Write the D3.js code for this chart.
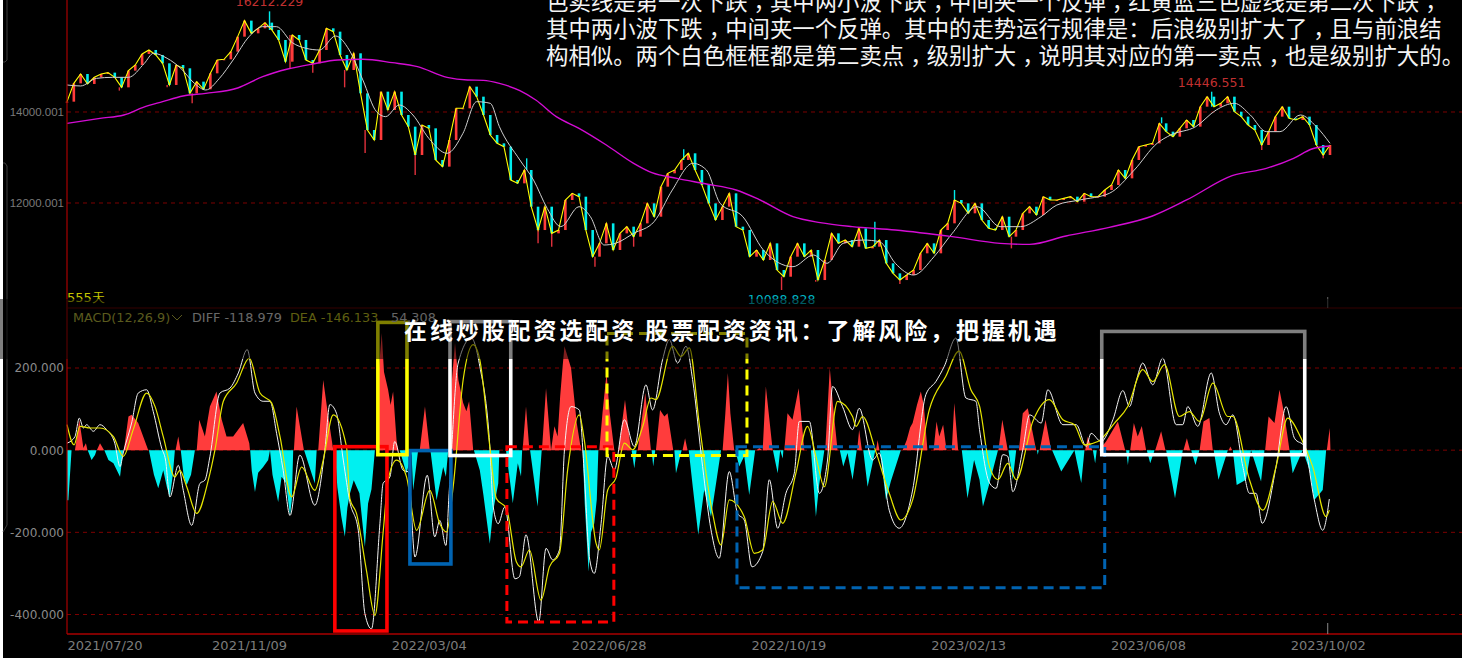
<!DOCTYPE html>
<html>
<head>
<meta charset="utf-8">
<script src="https://cdn.jsdelivr.net/npm/d3@7/dist/d3.min.js"></script>
<style>
  html, body { margin: 0; padding: 0; background: #000; overflow: hidden; }
  svg { display: block; }
  .mono { font-family: "DejaVu Sans", sans-serif; }
  .tick-price { font-family: "Liberation Sans", sans-serif; }
  .cjk { font-family: "Noto Sans CJK SC", sans-serif; }
</style>
</head>
<body>
<div id="chart"></div>
<script>
// closing index, one reading every 3 sessions
const closes = [
  14227,14630,14835,14616,14762,14835,14865,14762,14542,14909,15033,15275,15363,15253,15070,14594,
  15033,14960,14410,14667,14498,14850,15143,15158,15326,15656,16008,15729,15839,15964,15803,15583,
  15106,15693,15583,15143,15070,15363,15839,15766,15253,14923,15290,14410,13604,13385,14447,14044,
  14447,13934,13678,13055,13714,13641,12945,12799,13385,14081,14081,14557,14337,13934,13495,13311,
  13238,12505,12432,12725,11919,11406,11919,11333,11406,12066,12212,12139,11406,10820,11113,11553,
  10967,11333,11480,11260,11553,11992,11699,12359,12652,12725,12945,13092,12725,12396,11992,11626,
  11919,12212,11480,11406,10820,10967,10747,11113,10527,10380,10820,11113,10820,10967,10307,10747,
  11333,11113,11186,11040,11443,11003,11040,11186,10674,10454,10307,10417,10527,10894,11113,10894,
  11406,11553,12066,11992,11773,11992,11626,11443,11406,11699,11260,11406,11773,11919,11736,12139,
  12066,12066,12102,12139,12029,12212,12139,12139,12286,12396,12725,12542,12945,13238,13275,13311,
  13751,13568,13458,13641,13824,13678,14117,14337,14117,14191,14337,14007,13898,13714,13604,13275,
  13568,13898,14117,13861,13824,13898,13714,13275,13055,13275
];
const closeStep = 3;

// long shadows: [session, extreme price]
const wicks = [
  [23,14470],[44,14542],[55,14190],[89,16212],[98,14960],[108,14865],[122,14542],[131,13100],[153,12615],
  [202,12982],[207,11113],[213,11040],[232,10600],[249,11040],[271,13180],[314,10088],[329,10270],[355,11589],
  [366,10220],[390,12285],[415,11003],[481,13883],[503,14446],[525,13165],[552,12982]
];

const ma20 = [
  [0,14594],[6,14572],[13,14740],[20,14762],[27,14762],[34,15070],[38,15290],[44,15180],[50,14960],[56,14630],
  [61,14484],[67,14740],[73,15143],[80,15656],[86,15876],[92,15876],[99,15524],[105,15400],[111,15363],[118,15671],
  [124,15363],[130,14704],[136,14007],[140,13898],[146,14154],[152,13934],[159,13421],[167,13092],[174,13531],
  [180,14227],[186,14191],[190,13678],[199,12945],[205,12505],[211,11883],[217,11480],[225,11919],[230,11699],
  [236,11077],[241,11113],[249,11333],[258,11590],[266,12286],[275,12872],[281,12725],[287,11992],[297,11699],
  [306,10967],[319,10600],[328,10857],[334,10674],[341,11113],[350,11186],[357,11150],[364,10674],[372,10417],
  [381,10820],[389,11333],[400,11919],[410,11480],[419,11480],[428,11699],[435,11956],[445,12066],[458,12212],
  [469,12725],[479,13311],[485,13495],[496,13678],[505,14044],[513,14191],[520,13934],[527,13568],[533,13568],
  [542,13934],[549,13678],[555,13311]
];

const ma250 = [
  [0,13751],[14.5,13861],[25,13934],[33.5,14103],[42,14227],[51,14352],[61,14410],[75,14528],[86,14777],[97,14945],
  [108,15055],[119,15143],[130,15158],[143,15084],[154,14997],[167,14762],[176,14704],[183,14696],[190,14630],
  [199,14469],[206,14264],[215,13898],[225,13641],[237,13275],[249,12872],[257,12667],[268,12542],[281,12418],
  [294,12286],[304,12080],[319,11699],[331,11568],[345,11480],[364,11406],[389,11260],[410,11113],[423,11091],
  [439,11275],[458,11465],[477,11714],[492,12066],[512,12600],[527,12762],[539,12982],[547,13187],[555,13253]
];

const diffLine = [
  [0,17],[3.5,33],[5.4,78],[7.2,54],[8.6,62],[11.6,46],[14.5,62],[17.4,50],[21,17],[23.3,-40],[24.7,-7],[28.4,66],
  [31.3,139],[35,147],[37.9,94],[41.6,5],[43.3,-24],[45.2,-114],[48.9,-37],[51.1,-98],[54.8,-183],[58.4,-81],
  [60.6,-73],[62.8,-16],[67.2,139],[71.6,151],[75.3,188],[79.2,245],[82.6,139],[86.2,119],[89.2,119],[92.1,41],
  [95,-49],[98,-159],[102.3,-12],[108.9,-134],[113.3,0],[115.5,111],[118.4,90],[121.4,-24],[124.3,-126],[128,-195],
  [130.9,-398],[133.8,-435],[137.5,-179],[138.9,-81],[141.9,-65],[144,21],[147.7,-49],[150,-53],[152.9,-260],
  [158.3,-61],[161.6,-211],[163.8,-171],[166.5,-232],[167.9,-106],[171.9,212],[177.7,273],[181.4,204],[185.8,9],
  [187.3,-138],[189.5,-179],[192.4,-138],[196.8,-313],[198.8,-308],[201.7,-206],[207.3,-418],[210.5,-239],
  [213.4,-267],[216.4,-243],[218.6,1],[221.5,106],[225.1,98],[227.3,-56],[229.5,-259],[231.7,-300],[234.7,-178],
  [237.6,-15],[240.5,-48],[244.9,74],[249.3,9],[254.4,159],[257.3,98],[261.7,220],[264.7,269],[268.3,212],[272,253],
  [274.9,172],[279.3,-40],[283,-194],[286.6,-263],[291,-52],[294.7,-154],[297.6,-170],[301,-284],[305.7,-247],
  [308.6,-72],[312.3,-190],[315.9,-105],[319.6,-56],[321.8,70],[326.2,70],[330.6,-105],[334.2,-24],[336.4,155],
  [340.8,106],[345.2,50],[348.1,102],[354,-24],[356.9,-7],[361.3,-146],[365.7,-190],[371.6,-97],[377.4,135],
  [381.8,167],[385.5,204],[390.6,273],[395,127],[399.4,119],[401,50],[405.4,-80],[408.3,-93],[411.2,-11],[413.4,-15],
  [415.6,-101],[420,1],[423,86],[428.1,66],[431,147],[437.6,62],[443.5,62],[447.9,9],[450,41],[454.4,21],[459.6,74],
  [464,145],[466.9,106],[469.8,167],[472.7,212],[477.1,159],[481.5,224],[487.4,62],[490.3,62],[492.5,106],[496.9,58],
  [502.8,188],[506.4,90],[509.3,62],[512.3,86],[516.7,-40],[519.6,-105],[522.5,-105],[525.2,-178],[531.3,-40],
  [535.7,106],[539.4,29],[543.8,9],[548.1,-121],[551.8,-195],[554.7,-119]
];

const deaLine = [
  [0,62],[3.1,13],[5.7,58],[10.1,54],[14.5,54],[20.4,33],[24.7,-15],[29.1,50],[35,139],[38.7,106],[42.3,33],[47.4,-65],
  [49.6,-49],[52.6,-89],[57,-154],[62.1,-73],[65,0],[68.7,119],[74.5,163],[80.1,224],[84.8,139],[89.9,115],[93.6,33],
  [98.7,-114],[103.1,-41],[108.9,-98],[112.6,-24],[117,86],[122.8,9],[124.3,-118],[127.2,-154],[131.6,-293],[135.3,-402],
  [139,-195],[141.1,-73],[144.8,-24],[149.2,-65],[153.6,-195],[159.4,-98],[163.8,-179],[166.8,-199],[169.7,-89],
  [174.1,172],[178.5,257],[181.4,220],[185.8,9],[188.7,-118],[193.1,-142],[197.5,-272],[199.5,-284],[203.2,-243],
  [208.3,-365],[212,-284],[216.4,-251],[220,-48],[225.1,86],[227.3,25],[232.5,-227],[233.9,-243],[237.6,-97],[241.2,-68],
  [244.9,17],[248.6,1],[253,58],[256.6,127],[258.8,123],[266.1,253],[269.8,228],[273.5,249],[277.8,66],[283.7,-154],
  [287.4,-231],[291,-121],[297.6,-162],[302,-251],[305.7,-243],[310.1,-125],[314.5,-178],[320.3,-56],[325.4,58],
  [329.1,-15],[332.8,-89],[338.6,119],[345.2,82],[346.7,58],[349.6,82],[355.4,-3],[361.3,-105],[366.4,-170],[371.6,-121],
  [378.9,98],[386.2,180],[392,241],[397.2,147],[401,107],[405.4,-40],[409.1,-72],[413.4,-32],[417.1,-72],[424.4,70],
  [431.7,123],[437.6,74],[442.7,62],[447.1,13],[453,21],[460.3,66],[466.2,107],[472.7,196],[477.1,167],[482.3,208],
  [488.8,82],[493.2,94],[497.6,70],[503.5,163],[510.1,82],[512.3,82],[519.6,-72],[525.5,-146],[531.3,-40],[536.4,78],
  [542.3,29],[547.4,-40],[553.3,-162],[554.7,-146]
];

// MACD histogram outline: [session, value]
const macdHist = [
  [0,-122],[0.6,-122],[2,0],[3.5,0],[5.4,74],[7.2,5],[8.3,17],[9,0],[9.1,0],[10.8,-24],[12.3,-12],[13,0],[13.1,0],[14.5,17],
  [16.3,0],[16.4,0],[18.2,-24],[20.4,-32],[23.3,-65],[24.7,0],[25,0],[27,82],[28.4,86],[31.3,66],[35.7,0],[36,0],[38.2,-60],[40.1,-93],
  [42.3,-49],[43.9,-90],[45.2,-114],[46.5,-60],[47.4,0],[47.7,0],[48.9,33],[49.9,0],[50,0],[51.3,-65],[52.6,-85],[54.5,-60],[56.2,0],[57,0],[58.1,74],[60.6,33],[62.8,106],
  [65.7,143],[68,74],[70.1,33],[73,33],[77.4,66],[80.1,17],[80.4,0],[80.5,0],[81.2,-50],[82.6,-102],[84,-55],[86.2,-41],[88.4,-24],[89.2,0],
  [90.3,-60],[92.8,-126],[94.3,-65],[96.2,-80],[98,-159],[98.8,-120],[99.4,0],[99.7,0],[100.9,106],[104.1,0],[104.2,0],[108.9,-81],[109.7,0],[110.4,0],[112.6,171],
  [114.8,82],[117,0],[117.7,0],[118.8,-90],[120.5,-160],[122.1,-211],[123.2,-140],[124.3,-106],[126,-73],[128.5,-105],[130.9,-236],[132.3,-130],[133.8,-95],[135.3,0],
  [135.7,0],[136.7,170],[138.3,285],[139.3,190],[141.1,147],[142.2,110],[143.3,143],[144.8,25],[145.5,0],[146.2,0],[149.2,-57],[151.4,-8],[152.1,-98],[154.3,0],[155,0],[157.3,106],[159.4,0],[159.7,0],
  [162.4,-122],[165.3,-41],[166.5,-65],[167.5,0],[167.8,0],[169,160],[170.5,261],[172,170],[174.1,115],[175.5,95],[176.7,119],[178.5,0],[178.8,0],[181.4,-49],[183,-110],
  [185.8,-228],[187.2,-150],[189.5,-81],[190,0],[192.9,0],[195.9,-129],[198.1,-32],[199.5,-64],[200,0],[200.2,0],[201.7,106],[203.2,0],[203.5,0],
  [206.8,-137],[208.6,0],[208.7,0],[210.5,151],[212.7,0],[214.2,58],[215.6,33],[216.7,130],[217.8,204],[218.6,253],[221.5,200],[224,66],[225.9,0],
  [226.6,0],[227.5,-130],[229.2,-296],[230.3,-200],[231.7,-178],[232.8,-120],[233.5,0],[233.9,0],[235.3,90],[237.1,188],[238.5,90],[240.5,0],[242.4,0],[245.2,123],[247.8,0],[248.1,0],[249.3,-44],
  [250.3,0],[250.8,0],[254.1,139],[256.6,0],[256.9,0],[257.6,-40],[258.5,0],[258.8,0],[260.6,98],[262.5,82],[263.9,90],[266.4,0],
  [266.9,0],[267.6,-56],[270.1,0],[270.5,0],[271.6,29],[272.7,0],[273.2,0],[275,-90],[277.4,-206],[280,-97],[283,-162],[285.5,-70],[287.4,0],[288.1,0],[289.3,90],
  [290.4,188],[291.5,90],[293.2,0],[293.7,0],[295.4,-40],[297.6,-15],[299.8,-109],[302.4,0],[303,0],[304.2,5],[305.7,0],[307.1,155],[310.1,0],
  [310.2,0],[312.3,-56],[313.4,0],[314.5,-20],[314.8,0],[315.2,0],[316.6,90],[318.8,74],[321.5,151],[324,0],[326.9,0],[328,-80],[329.1,-162],[330.5,-85],
  [332.8,0],[333.2,0],[334.3,110],[335.2,200],[336.5,115],[338.6,0],[339.6,0],[341.1,-40],[343,-7],[345.2,-72],[347,0],[347.2,0],[348.1,50],[349.3,0],[349.9,0],
  [351.8,-89],[355.2,0],[355.5,0],[356.2,25],[357,0],[357.2,0],[359.9,-121],[362,-76],[366.4,0],[367.2,0],[369,25],[370.5,55],[371.6,66],[373.5,110],[375.2,143],[376.5,110],[378.1,0],
  [380.8,0],[382.1,70],[383.3,33],[385,62],[386.5,0],[388.8,0],[389.9,115],[391.6,0],[393.2,0],[395.7,-117],[398.6,-24],[401,-72],
  [402.5,-137],[405.4,-80],[409.1,0],[409.3,0],[411,74],[413.4,0],[413.7,0],[415.6,-72],[417.1,0],[418.3,0],[420,90],[422.2,102],[425.9,0],
  [426.2,0],[426.6,-11],[427,0],[427.4,0],[430,74],[432.5,0],[432.9,0],[436.9,-52],[442.7,0],[445.7,-80],[447.1,0],[447.4,0],[448.6,33],
  [450.5,0],[450.8,0],[451.8,-32],[452.5,0],[453.5,0],[456.6,21],[461.8,70],[465,0],[465.4,0],[466.2,-36],[466.9,0],[467.2,0],[468.8,66],
  [470.5,33],[472.3,59],[474.2,0],[474.5,0],[476,-32],[477.9,0],[478.2,0],[480.8,46],[482.7,0],[483,0],[486.9,-117],[490.3,0],[490.6,0],
  [492.1,29],[493.5,0],[494,0],[495.9,-36],[497.6,0],[497.7,0],[499.4,70],[502,78],[503.5,0],[503.9,0],[506,-72],[510.1,0],[510.5,0],
  [511.2,9],[512,0],[512.3,0],[514,-85],[518.1,-72],[520.3,0],[524.7,-76],[526.2,0],[526.5,0],[528,82],[530.6,66],[532.8,147],[535,85],[537.2,0],
  [538.6,-56],[543,0],[546,-48],[548.1,-121],[551.8,-97],[553.3,0],[553.6,0],[554.9,54],[555.2,0]
];

const priceTicks = [12000.001, 14000.001];
const macdTicks = [-400, -200, 0, 200];
const dateTickDays = [0, 80, 159, 238, 317, 396, 475, 554];
const dateLabels = ['2021/07/20', '2021/11/09', '2022/03/04', '2022/06/28', '2022/10/19', '2023/02/13', '2023/06/08', '2023/10/02'];

// hand drawn frames on the MACD pane: [first day, last day, top value, bottom value]
const noteBoxes = [
  [117.7, 140.6, 8.5, -440],
  [150.7, 168.7, -1, -277],
  [136.6, 149.4, 311, -11],
  [168.3, 195, 313, -13],
  [193.3, 240.3, 8.5, -418],
  [237.3, 298.8, 284, -13],
  [294.4, 456, 8.5, -335],
  [454.7, 543.9, 289, -11]
];
const noteColors = ['#ff0000', '#0063b1', '#ffff00', '#ffffff', '#ff0000', '#ffff00', '#0063b1', '#ffffff'];
const noteDashed = [false, false, false, false, true, true, true, false];

const priceNotes = [['16212.229', 89, 16212], ['14446.551', 503, 14446], ['10088.828', 314, 10088]];
const macdHeader = [['MACD(12,26,9)', '#b4b43c'], ['DIFF -118.979', '#d0d0d0'], ['DEA -146.133', '#bcbc20'], ['54.308', '#c8c8c8']];
const commentLines = [
  '色卖线是第一次下跌，其中两小波下跌，中间夹一个反弹，红黄蓝三色虚线是第二次下跌，',
  '其中两小波下跌，中间夹一个反弹。其中的走势运行规律是：后浪级别扩大了，且与前浪结',
  '构相似。两个白色框框都是第二卖点，级别扩大，说明其对应的第一卖点，也是级别扩大的。'
];
const bannerTitle = '在线炒股配资选配资 股票配资资讯：了解风险，把握机遇';

const width = 1462, height = 658;
const svg = d3.select('#chart').append('svg').attr('width', width).attr('height', height);

const x = d3.scaleLinear().domain([0, 555]).range([67, 1330]);
const yPrice = d3.scaleLinear().domain([12000, 14000]).range([203, 112]);
const yMacd = d3.scaleLinear().domain([-400, 200]).range([614.5, 368]);

const gridRed = '#7c0000';
const frameRed = '#a80000';

// page edge and the window's rounded frame on the left
svg.append('rect').attr('width', 3).attr('height', height).attr('fill', '#fff');
svg.append('path').attr('fill', 'none').attr('stroke', '#3d3d3d')
  .attr('d', 'M7,0V60L5,62H3M3,163H5L7,166V525L3,532');

// grid
const grid = svg.append('g').attr('stroke', gridRed).attr('stroke-dasharray', '4,4');
priceTicks.forEach(t => grid.append('line').attr('x1', 67).attr('x2', width).attr('y1', yPrice(t)).attr('y2', yPrice(t)));
macdTicks.forEach(t => grid.append('line').attr('x1', 67).attr('x2', width).attr('y1', yMacd(t)).attr('y2', yMacd(t)));

// axes
const priceAxis = svg.append('g').attr('transform', 'translate(64,0)')
  .call(d3.axisLeft(yPrice).tickValues(priceTicks).tickSize(0).tickPadding(0).tickFormat(d => d.toFixed(3)));
priceAxis.select('.domain').remove();
priceAxis.selectAll('text').attr('class', 'tick-price').attr('font-size', 11.5).attr('fill', '#7a7a7a');

const macdAxis = svg.append('g').attr('transform', 'translate(64,0)')
  .call(d3.axisLeft(yMacd).tickValues(macdTicks).tickSize(0).tickPadding(0).tickFormat(d => d.toFixed(3)));
macdAxis.select('.domain').remove();
macdAxis.selectAll('text').attr('class', 'mono').attr('font-size', 12).attr('fill', '#8a8a8a');

const dateAxis = svg.append('g').attr('transform', 'translate(0,634)')
  .call(d3.axisBottom(x).tickValues(dateTickDays).tickSize(0).tickPadding(7).tickFormat((d, i) => dateLabels[i]));
dateAxis.select('.domain').remove();
dateAxis.selectAll('text').attr('class', 'mono').attr('font-size', 13).attr('fill', '#7c7c7c');
dateAxis.select('.tick text').attr('text-anchor', 'start');

// candles: each reading opens on the previous close
const dayOf = i => i * closeStep;
const colorOf = i => (i === 0 || closes[i] >= closes[i - 1]) ? '#ff3b3b' : '#00ecec';

svg.append('g').selectAll('line').data(wicks).enter().append('line')
  .attr('x1', d => x(d[0])).attr('x2', d => x(d[0]))
  .attr('y1', d => yPrice(d[1]))
  .attr('y2', d => yPrice(closes[Math.round(d[0] / closeStep)]))
  .attr('stroke', d => d[1] > closes[Math.round(d[0] / closeStep)] ? '#00ecec' : '#e0303c')
  .attr('stroke-width', 1.4);

svg.append('g').selectAll('rect').data(closes).enter().append('rect')
  .attr('x', (d, i) => x(dayOf(i)) - 1.3)
  .attr('width', 2.6)
  .attr('y', (d, i) => Math.min(yPrice(d), yPrice(i ? closes[i - 1] : d)))
  .attr('height', (d, i) => Math.max(1, Math.abs(yPrice(d) - yPrice(i ? closes[i - 1] : d))))
  .attr('fill', (d, i) => colorOf(i));

const priceLine = d3.line().x(d => x(d[0])).y(d => yPrice(d[1]));
svg.append('path').attr('fill', 'none').attr('stroke', '#ffff00').attr('stroke-width', 1.1)
  .attr('d', priceLine(closes.map((c, i) => [dayOf(i), c])));
svg.append('path').attr('fill', 'none').attr('stroke', '#cfcfcf').attr('stroke-width', 1)
  .attr('d', priceLine.curve(d3.curveMonotoneX)(ma20));
svg.append('path').attr('fill', 'none').attr('stroke', '#d40cd4').attr('stroke-width', 1.4)
  .attr('d', priceLine.curve(d3.curveMonotoneX)(ma250));

svg.append('g').selectAll('text').data(priceNotes).enter().append('text')
  .attr('class', 'mono').attr('font-size', 12.5).attr('text-anchor', 'middle')
  .attr('x', d => x(d[1]))
  .attr('y', d => yPrice(d[2]) + (d[2] < 12000 ? 14 : -5))
  .attr('fill', d => d[2] < 12000 ? '#00b4c4' : '#c03030')
  .text(d => d[0]);

// histogram
const histArea = d3.area().x(d => x(d[0])).y0(yMacd(0));
svg.append('path').attr('fill', '#ff3c3c').attr('d', histArea.y1(d => yMacd(Math.max(d[1], 0)))(macdHist));
svg.append('path').attr('fill', '#00f0f0').attr('d', histArea.y1(d => yMacd(Math.min(d[1], 0)))(macdHist));

const macdLine = d3.line().x(d => x(d[0])).y(d => yMacd(d[1])).curve(d3.curveMonotoneX);
svg.append('path').attr('fill', 'none').attr('stroke', '#f4f4f4').attr('stroke-width', 1).attr('d', macdLine(diffLine));
svg.append('path').attr('fill', 'none').attr('stroke', '#e6e600').attr('stroke-width', 1.2).attr('d', macdLine(deaLine));

// pane frame
const frame = svg.append('g').attr('stroke', frameRed);
frame.append('line').attr('x1', 67).attr('x2', 67).attr('y1', 0).attr('y2', 634).attr('stroke-width', 1.2);
frame.append('line').attr('x1', 67).attr('x2', width).attr('y1', 308).attr('y2', 308).attr('stroke', '#6a0000');
frame.append('line').attr('x1', 67).attr('x2', width).attr('y1', 634).attr('y2', 634).attr('stroke-width', 1.6);
svg.append('line').attr('x1', x(554)).attr('x2', x(554)).attr('y1', 623).attr('y2', 634).attr('stroke', '#888');
svg.append('line').attr('x1', x(554)).attr('x2', x(554)).attr('y1', 297).attr('y2', 308).attr('stroke', '#666');

// frames
svg.append('g').selectAll('rect').data(noteBoxes).enter().append('rect')
  .attr('x', d => x(d[0])).attr('width', d => x(d[1]) - x(d[0]))
  .attr('y', d => yMacd(d[2])).attr('height', d => yMacd(d[3]) - yMacd(d[2]))
  .attr('fill', 'none')
  .attr('stroke', (d, i) => noteColors[i])
  .attr('stroke-width', (d, i) => noteDashed[i] ? 3 : 3.6)
  .attr('stroke-dasharray', (d, i) => noteDashed[i] ? '10,6' : null);

// pane captions
svg.append('text').attr('class', 'mono').attr('font-size', 13).attr('x', 67).attr('y', 302)
  .attr('fill', '#c4c400').text('555天');
const capX = [73, 192, 290, 391];
svg.append('g').selectAll('text').data(macdHeader).enter().append('text')
  .attr('class', 'mono').attr('font-size', 12.8).attr('y', 322)
  .attr('x', (d, i) => capX[i]).attr('fill', d => d[1]).text(d => d[0]);
svg.append('path').attr('fill', 'none').attr('stroke', '#b4b43c').attr('d', 'M172,315L177,320L182,315');

// translucent banner across the picture
svg.append('rect').attr('x', 0).attr('y', 299).attr('width', width).attr('height', 60).attr('fill', '#000').attr('fill-opacity', 0.5);
svg.append('text').attr('class', 'cjk').attr('x', 404).attr('y', 339).attr('font-size', 23).attr('font-weight', 700)
  .attr('letter-spacing', 2.9).attr('fill', '#fff').text(bannerTitle);

// comment text pasted on top of the chart; its commas sit mid cell in the source font
const commaShift = 6;
const commaOffsets = line => {
  const chars = Array.from(line);
  return chars.map((c, i) => c === '，' ? commaShift : (chars[i - 1] === '，' ? -commaShift : 0)).join(' ');
};
svg.append('g').selectAll('text').data(commentLines).enter().append('text')
  .attr('class', 'cjk').attr('font-size', 22.4).attr('fill', '#f4f4f4')
  .attr('x', 546).attr('y', (d, i) => 10 + i * 27)
  .attr('dx', d => commaOffsets(d))
  .text(d => d);
</script>
</body>
</html>
